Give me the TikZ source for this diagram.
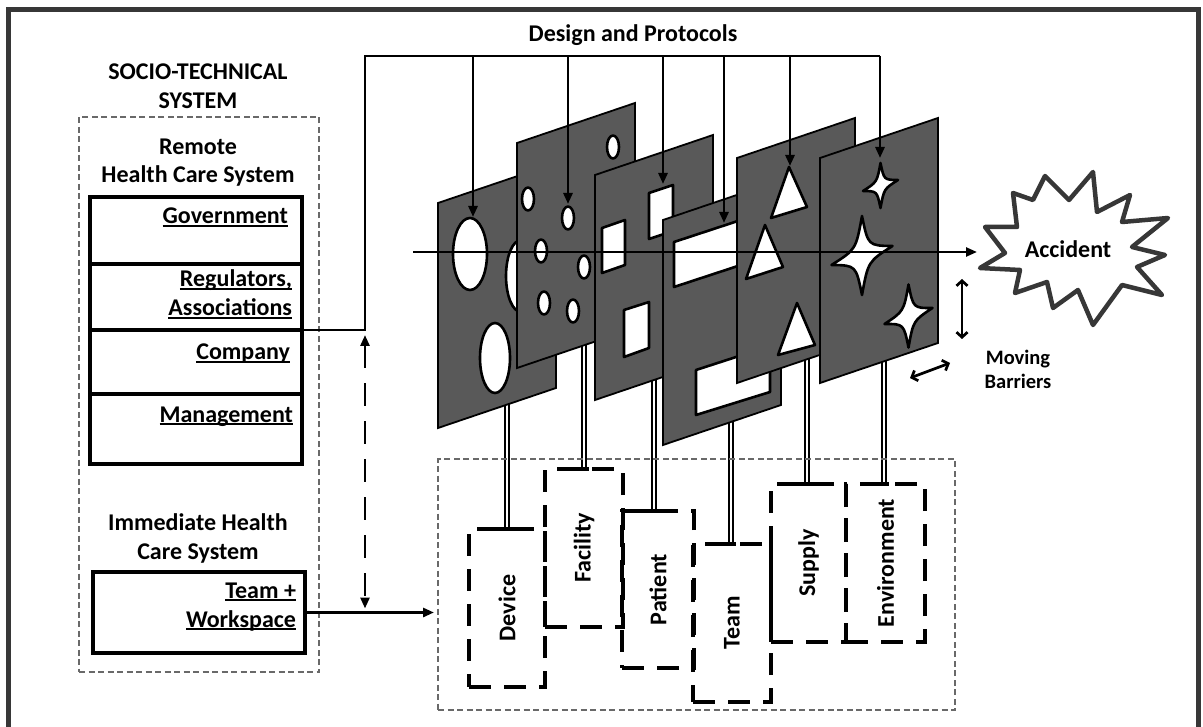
\documentclass[tikz,border=0pt]{standalone}
\usepackage{fontspec}
\setmainfont{Carlito}
\usetikzlibrary{arrows.meta}

\definecolor{slicegray}{RGB}{89,89,89}
\definecolor{framegray}{RGB}{55,55,55}
\definecolor{zonegray}{RGB}{105,105,105}

% underlined label with a heavier rule than \underline gives
\newcommand\ulbox[1]{\setbox0=\hbox{#1}\rlap{\rule[-3.4pt]{\wd0}{2pt}}\box0}

% one barrier slice: a sheared plate, top-left corner at (#1,#2)
\newcommand\drawslab[2]{\draw[slabshape] (#1,#2) -- ++(118,-40) -- ++(0,225) -- ++(-118,40) -- cycle;}

% four-pointed hole: centre (#1,#2), vertical tip #3, horizontal tip #4, shear #5
\newcommand\sparkle[5]{%
  \begin{scope}[shift={(#1,#2)}]
    \draw[holeshape] (0,-#3)
      .. controls (0.2*#4,-0.2*#3-0.2*#5) .. (#4,-#5)
      .. controls (0.2*#4,0.2*#3-0.2*#5) .. (0,#3)
      .. controls (-0.2*#4,0.2*#3+0.2*#5) .. (-#4,#5)
      .. controls (-0.2*#4,-0.2*#3+0.2*#5) .. (0,-#3) -- cycle;
  \end{scope}}

\begin{document}
\begin{tikzpicture}[x=1pt,y=-1pt,
  every node/.style={inner sep=0pt,outer sep=0pt},
  txt/.style={font=\fontsize{24}{28.5}\selectfont\bfseries},
  smtxt/.style={font=\fontsize{20.5}{24}\selectfont\bfseries},
  slabshape/.style={fill=slicegray,draw=black,line width=1.8pt,line join=miter},
  holeshape/.style={fill=white,draw=black,line width=2.6pt,line join=round},
  tierbox/.style={rectangle,draw=black,line width=3.4pt,minimum width=212pt},
  grayzone/.style={rectangle,draw=zonegray,line width=1.3pt,dash pattern=on 6pt off 3.5pt},
  compbox/.style={rectangle,draw=black,line width=3.1pt,dash pattern=on 22pt off 13pt},
  conn/.style={draw=black,line width=2.7pt},
  ptr/.style={-{Triangle[length=11pt,width=9pt]}},
  stemline/.style={draw=black,double=white,double distance=2.6pt,line width=2.1pt},
  barb/.style={{Straight Barb[length=5pt,width=11pt]}-{Straight Barb[length=5pt,width=11pt]},line width=2.7pt},
]
\useasboundingbox (0,0) rectangle (1203,727);
\clip (0,0) rectangle (1203,727);

% outer frame
\draw[draw=framegray,line width=5pt] (8,10) rectangle (1198,745);

% ---------------- socio-technical system ----------------
\node[txt,anchor=base] (stsA) at (198,80) {SOCIO-TECHNICAL};
\node[txt,anchor=base] (stsB) at (198,109) {SYSTEM};
\node[grayzone,minimum width=240pt,minimum height=555pt] (stszone) at (199,394.5) {};
\node[txt,anchor=base] (remA) at (198,155) {Remote};
\node[txt,anchor=base] (remB) at (198,183) {Health Care System};

\node[tierbox,minimum height=67pt] (gov)  at (196,230.5) {};
\node[tierbox,minimum height=66pt] (reg)  at (196,297) {};
\node[tierbox,minimum height=64pt] (comp) at (196,362) {};
\node[tierbox,minimum height=70pt] (mgmt) at (196,429) {};
\node[txt,anchor=base east] (govL)  at (288,224) {\ulbox{Government}};
\node[txt,anchor=base east] (regL)  at (292,287) {\ulbox{Regulators\rlap{,}\hphantom{,}}};
\node[txt,anchor=base east] (regL2) at (292,316) {\ulbox{Associations}};
\node[txt,anchor=base east] (compL) at (290,360) {\ulbox{Company}};
\node[txt,anchor=base east] (mgmtL) at (293,422) {\ulbox{Management}};

\node[txt,anchor=base] (immA) at (198,530) {Immediate Health};
\node[txt,anchor=base] (immB) at (198,559) {Care System};
\node[tierbox,minimum height=81pt] (tw) at (199,612.5) {};
\node[txt,anchor=base east] (twL)  at (296,598) {\ulbox{Team +}};
\node[txt,anchor=base east] (twL2) at (296,627) {\ulbox{Workspace}};

% ---------------- design and protocols bus ----------------
\node[txt,anchor=base] (dp) at (633,42) {Design and Protocols};
\coordinate (jtop) at (365,330);
\coordinate (jbot) at (365,612.5);
\coordinate (bus) at (0,56);
\draw[conn,line join=miter] (reg.south east) -- (jtop) -- (jtop |- bus) -- (880,56);

% ---------------- components (drawn under the plates) ----------------
\node[compbox,minimum width=76pt,minimum height=158pt] (device)   at (507,608) {};
\node[compbox,minimum width=78pt,minimum height=158pt] (facility) at (584,548) {};
\node[compbox,minimum width=72pt,minimum height=157pt] (patient)  at (658,589.5) {};
\node[compbox,minimum width=78pt,minimum height=158pt] (team)     at (732,623) {};
\node[compbox,minimum width=75pt,minimum height=158pt] (supply)   at (808.5,563) {};
\node[compbox,minimum width=79pt,minimum height=158pt] (envir)    at (885.5,563) {};

\coordinate (p1) at (507,390);
\coordinate (p2) at (584,330);
\coordinate (p3) at (654,370);
\coordinate (p4) at (731,400);
\coordinate (p5) at (807,350);
\coordinate (p6) at (884,350);
\foreach \p/\b in {p1/device,p2/facility,p3/patient,p4/team,p5/supply,p6/envir}{
  \draw[stemline] (\p) -- (\p |- \b.north);
  \path (\p |- \b.north) coordinate (t\p);
  \draw[line width=3.1pt] (t\p) ++(-16,0) -- ++(21,0);
}

\node[txt,rotate=90] (deviceL)   at (507,608)   {Device};
\node[txt,rotate=90] (facilityL) at (584,548)   {Facility};
\node[txt,rotate=90] (patientL)  at (658,589.5) {Patient};
\node[txt,rotate=90] (teamL)     at (732,623)   {Team};
\node[txt,rotate=90] (supplyL)   at (808.5,563) {Supply};
\node[txt,rotate=90] (envirL)    at (885.5,563) {Environment};

\node[grayzone,minimum width=517pt,minimum height=251pt] (zone) at (696.5,584.5) {};

% ---------------- barrier plates ----------------
% plate 1: large oval holes
\drawslab{438}{203}
\draw[holeshape] (470,254) ellipse [x radius=17,y radius=36];
\draw[holeshape] (495,358) ellipse [x radius=15,y radius=35];
\draw[holeshape] (521,276) ellipse [x radius=15,y radius=36];
% plate 2: small oval holes
\drawslab{517}{143}
\foreach \cx/\cy in {613/147,528/199,568/218,541/251,584/267,544/303,573/311}
  \draw[holeshape] (\cx,\cy) ellipse [x radius=6,y radius=11.5];
% plate 3: square holes
\drawslab{595}{175}
\draw[holeshape] (602,228) -- (625,220) -- (625,265) -- (602,273) -- cycle;
\draw[holeshape] (649,193) -- (673,185) -- (673,231) -- (649,239) -- cycle;
\draw[holeshape] (624,310) -- (649,302) -- (649,348) -- (624,357) -- cycle;
% plate 4: slot holes
\drawslab{663}{220}
\draw[holeshape] (674,242) -- (750,217) -- (750,262) -- (674,287) -- cycle;
\draw[holeshape] (696,370) -- (770,346) -- (770,392) -- (696,415) -- cycle;
% plate 5: triangular holes
\drawslab{737}{158}
\draw[holeshape] (789,167) -- (807,207) -- (771,218) -- cycle;
\draw[holeshape] (765,225) -- (783,267) -- (746,279) -- cycle;
\draw[holeshape] (797,303) -- (815,345) -- (778,355) -- cycle;
% plate 6: star holes
\drawslab{820}{158}
\sparkle{880.5}{185.5}{22.5}{17.5}{5.5}
\sparkle{862}{255.5}{39.5}{30.5}{9.5}
\sparkle{908.5}{316}{31.5}{24}{8}

% ---------------- hazard trajectory ----------------
\coordinate (ray) at (413,252);
\coordinate (hit) at (977,252);
\draw[conn,line width=2.4pt,ptr] (ray) -- (hit);

% design inputs
\foreach \hx/\hy in {473/217,568/204,663/184,724/223,790/166,880/158}{
  \coordinate (h) at (\hx,\hy);
  \draw[conn,ptr] (h |- bus) -- (h);
}

% ---------------- accident ----------------
\draw[draw=framegray,line width=4.5pt,fill=white,line join=round]
  (1013,193) -- (1033,200) -- (1045,176) -- (1069,200) -- (1093,172) -- (1097,212)
  -- (1130,195) -- (1122,222) -- (1168,218) -- (1132,247) -- (1165,255) -- (1137,267)
  -- (1162,295) -- (1122,285) -- (1093,325) -- (1078,290) -- (1053,308) -- (1047,282)
  -- (1015,293) -- (1020,270) -- (980,268) -- (1005,253) -- (985,227) -- (1017,227) -- cycle;
\node[txt,anchor=base] (acc) at (1068,258) {Accident};

% moving barriers
\coordinate (mvA) at (962,279);
\coordinate (mvB) at (962,339);
\coordinate (mvC) at (910,378);
\coordinate (mvD) at (950,363);
\draw[barb] (mvA) -- (mvB);
\draw[barb] (mvC) -- (mvD);
\node[smtxt,anchor=base] (mvL)  at (1018,365) {Moving};
\node[smtxt,anchor=base] (mvL2) at (1018,389) {Barriers};

% ---------------- feedback between levels ----------------
\draw[conn,dash pattern=on 23pt off 15pt,
  {Triangle[length=11pt,width=9pt]}-{Triangle[length=11pt,width=9pt]},
  shorten <=5pt,shorten >=4pt] (jtop) -- (jbot);
\draw[conn,ptr,shorten >=4pt] (tw.east) -- (tw.east -| zone.west);
\end{tikzpicture}
\end{document}
